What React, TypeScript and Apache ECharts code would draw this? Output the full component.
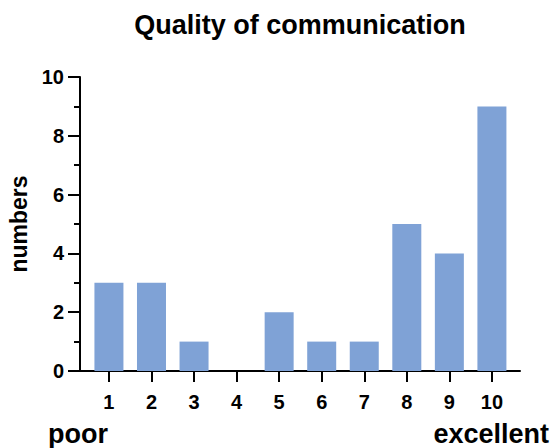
import React, { useEffect, useRef } from "react";
import * as echarts from "echarts";

const categories = [1, 2, 3, 4, 5, 6, 7, 8, 9, 10];
const counts = [3, 3, 1, 0, 2, 1, 1, 5, 4, 9];
const yTicks = [0, 2, 4, 6, 8, 10];
const titleText = "Quality of communication";
const yName = "numbers";
const lowLabel = "poor";
const highLabel = "excellent";

const FONT = "Liberation Sans, Arial, Helvetica, sans-serif";

export default function App() {
  const ref = useRef<HTMLDivElement>(null);
  useEffect(() => {
    if (!ref.current) return;
    const chart = echarts.init(ref.current, undefined, { renderer: "svg" });
    chart.setOption({
      animation: false,
      backgroundColor: "#ffffff",
      grid: { left: 80, right: 33, top: 77, bottom: 77, containLabel: false },
      xAxis: {
        type: "value",
        min: 0.32,
        max: 10.66,
        splitLine: { show: false },
        axisLine: { show: true, onZero: false, lineStyle: { color: "#000", width: 2 } },
        axisTick: {
          show: true,
          length: 11,
          lineStyle: { color: "#000", width: 2 },
          customValues: categories,
        },
        axisLabel: {
          customValues: categories,
          color: "#000",
          fontSize: 20,
          fontWeight: "bold",
          fontFamily: FONT,
          margin: 21,
        },
      },
      yAxis: {
        type: "value",
        min: 0,
        max: 10,
        interval: 2,
        splitLine: { show: false },
        axisLine: { show: true, lineStyle: { color: "#000", width: 2 } },
        axisTick: { show: true, length: 12, lineStyle: { color: "#000", width: 2 } },
        minorTick: { show: true, splitNumber: 2, length: 6, lineStyle: { color: "#000", width: 2 } },
        axisLabel: {
          color: "#000",
          fontSize: 20,
          fontWeight: "bold",
          fontFamily: FONT,
          margin: 16,
          formatter: (v: number) => (yTicks.includes(v) ? String(v) : ""),
        },
      },
      series: [
        {
          type: "bar",
          barWidth: 29,
          itemStyle: { color: "#7fa2d6" },
          data: categories.map((c, i) => [c, counts[i]]),
        },
      ],
      graphic: [
        {
          type: "text",
          x: 300,
          y: 25,
          style: {
            text: titleText,
            fontSize: 27,
            fontWeight: "bold",
            fontFamily: FONT,
            fill: "#000",
            textAlign: "center",
            textVerticalAlign: "middle",
          },
        },
        {
          type: "text",
          x: 19,
          y: 224,
          rotation: Math.PI / 2,
          style: {
            text: yName,
            fontSize: 23,
            fontWeight: "bold",
            fontFamily: FONT,
            fill: "#000",
            textAlign: "center",
            textVerticalAlign: "middle",
          },
        },
        {
          type: "text",
          x: 48,
          y: 434,
          style: {
            text: lowLabel,
            fontSize: 27,
            fontWeight: "bold",
            fontFamily: FONT,
            fill: "#000",
            textAlign: "left",
            textVerticalAlign: "middle",
          },
        },
        {
          type: "text",
          x: 549,
          y: 434,
          style: {
            text: highLabel,
            fontSize: 27,
            fontWeight: "bold",
            fontFamily: FONT,
            fill: "#000",
            textAlign: "right",
            textVerticalAlign: "middle",
          },
        },
      ],
    });
    return () => chart.dispose();
  }, []);
  return (
    <div
      ref={ref}
      style={{ position: "absolute", left: 0, top: 0, width: 553, height: 448 }}
    />
  );
}
